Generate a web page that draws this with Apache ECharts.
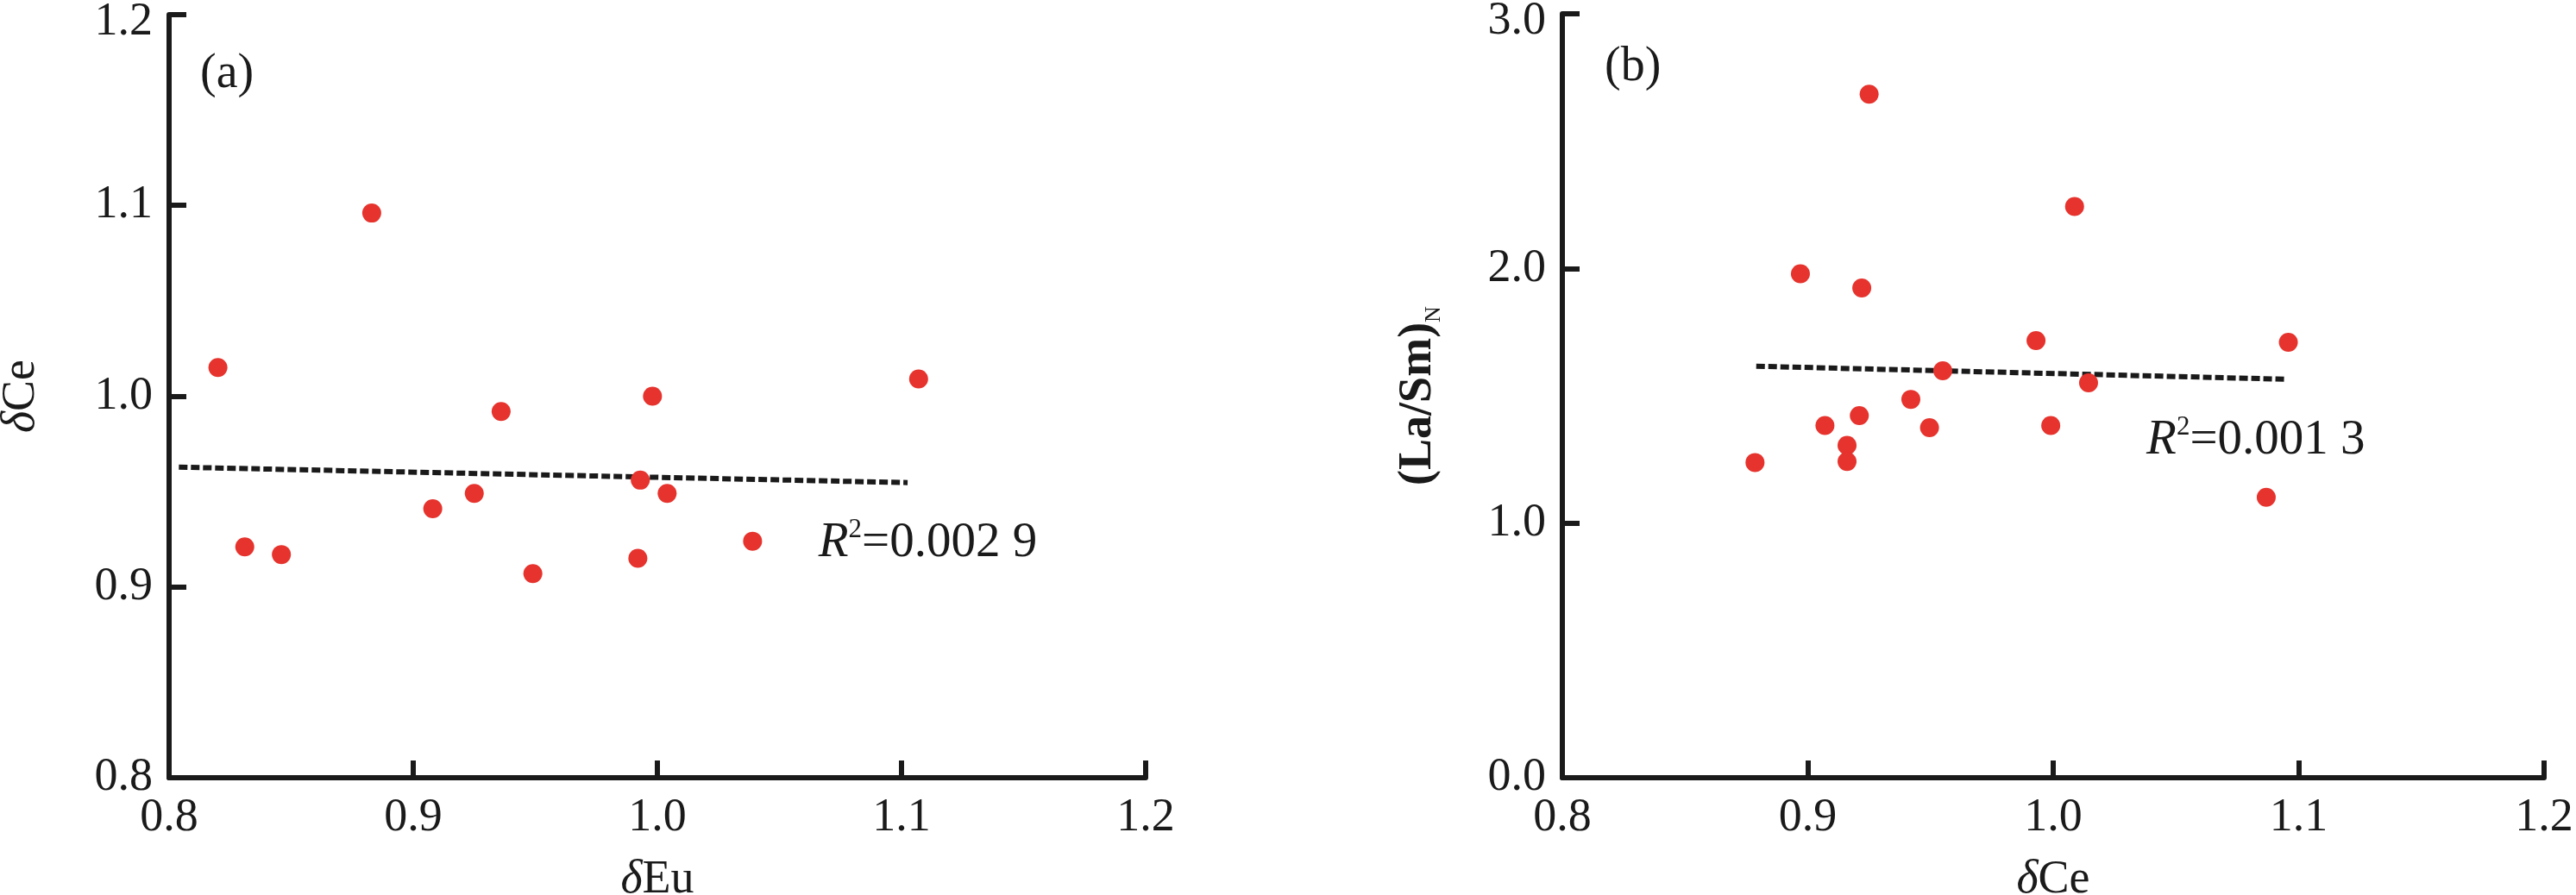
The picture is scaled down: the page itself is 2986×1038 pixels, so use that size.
<!DOCTYPE html>
<html><head><meta charset="utf-8">
<script src="https://cdn.jsdelivr.net/npm/echarts@6/dist/echarts.min.js"></script>
<style>html,body{margin:0;padding:0;background:#fff}#c{width:2986px;height:1038px}</style>
</head><body><div id="c"></div>
<script>
// Panel (a): δEu vs δCe
const aEu = [0.820, 0.831, 0.846, 0.883, 0.908, 0.925, 0.936, 0.949, 0.992, 0.993, 0.998, 1.004, 1.039, 1.107];
const aCe = [1.015, 0.921, 0.917, 1.096, 0.941, 0.949, 0.992, 0.907, 0.915, 0.956, 1.000, 0.949, 0.924, 1.009];
const aFitX = [0.804, 1.1025];
const aFitY = [0.9628, 0.9547];
const aR2 = '0.002 9';
// Panel (b): δCe vs (La/Sm)N
const bCe = [0.8785, 0.897, 0.907, 0.916, 0.916, 0.921, 0.922, 0.925, 0.942, 0.9496, 0.955, 0.993, 0.999, 1.0087, 1.0144, 1.0868, 1.0958];
const bLaSm = [1.238, 1.979, 1.383, 1.305, 1.242, 1.422, 1.923, 2.684, 1.486, 1.375, 1.598, 1.717, 1.383, 2.243, 1.551, 1.101, 1.710];
const bFitX = [0.879, 1.0945];
const bFitY = [1.616, 1.565];
const bR2 = '0.001 3';
// annotation anchors (data coordinates)
const aR2Anchor = [1.066, 0.923];
const bR2Anchor = [1.038, 1.324];

const F = '"Liberation Serif","Times New Roman",serif';
const C = '#1a1a1a';
const RED = '#e6332d';
const FS = 54;

function pairs(xs, ys){ return xs.map((x,i)=>[x, ys[i]]); }

function xAxisCfg(grid, name, rich){
  return {
    gridIndex: grid, type:'value', min:0.8, max:1.2, interval:0.1,
    axisLine:{show:true, onZero:false, lineStyle:{color:C, width:6}},
    axisTick:{show:true, inside:true, length:20, lineStyle:{color:C, width:6}},
    splitLine:{show:false},
    axisLabel:{fontSize:FS, fontFamily:F, color:C, margin:20, formatter:v=>v.toFixed(1)},
    name:name, nameLocation:'middle', nameGap:92, nameMoveOverlap:false,
    nameTextStyle:{fontSize:FS, fontFamily:F, color:C, rich:rich}
  };
}
function yAxisCfg(grid, min, max, interval, name, gap, rich){
  return {
    gridIndex: grid, type:'value', min:min, max:max, interval:interval,
    axisLine:{show:true, onZero:false, lineStyle:{color:C, width:6}},
    axisTick:{show:true, inside:true, length:20, lineStyle:{color:C, width:6}},
    splitLine:{show:false},
    axisLabel:{fontSize:FS, fontFamily:F, color:C, margin:19,
      formatter:v=>{ const s = v.toFixed(1); return Math.abs(v - max) < 1e-9 ? '{m|' + s + '}' : s; },
      rich:{m:{fontSize:FS, fontFamily:F, color:C, padding:[18,0,0,0]}}},
    name:name, nameLocation:'middle', nameGap:gap, nameMoveOverlap:false,
    nameTextStyle:{fontSize:FS, fontFamily:F, color:C, rich:rich}
  };
}
const deltaRich = {
  i:{fontStyle:'italic', fontSize:FS, fontFamily:F, color:C},
  t:{fontSize:FS, fontFamily:F, color:C}
};
const laRich = {
  t:{fontSize:FS, fontFamily:F, color:C, fontWeight:'bold', lineHeight:62},
  s:{fontSize:26, fontFamily:F, color:C, verticalAlign:'bottom', lineHeight:62}
};
const r2Rich = {
  i:{fontStyle:'italic', fontSize:57, fontFamily:F, color:C, lineHeight:62},
  s:{fontSize:31, fontFamily:F, color:C, verticalAlign:'top', lineHeight:40},
  t:{fontSize:57, fontFamily:F, color:C, lineHeight:62}
};

function fitSeries(xi, yi, xs, ys, anchor, r2){
  return {
    type:'line', xAxisIndex:xi, yAxisIndex:yi, data:pairs(xs, ys),
    showSymbol:false, symbol:'none', silent:true, z:1,
    lineStyle:{color:C, width:6, type:[10,4]},
    markPoint:{
      silent:true, symbol:'circle', symbolSize:0, itemStyle:{color:'rgba(0,0,0,0)'},
      data:[{coord:anchor}],
      label:{show:true, position:'right', distance:0,
        formatter:'{i|R}{s|2}{t|=' + r2 + '}', rich:r2Rich}
    }
  };
}

const chart = echarts.init(document.getElementById('c'), null, {renderer:'canvas'});
chart.setOption({
  animation:false,
  backgroundColor:'#fff',
  textStyle:{fontFamily:F},
  grid:[
    {left:196, top:17, width:1132, height:885, outerBoundsMode:'none', containLabel:false},
    {left:1811, top:16, width:1138, height:886, outerBoundsMode:'none', containLabel:false}
  ],
  xAxis:[
    xAxisCfg(0, '{i|δ}{t|Eu}', deltaRich),
    xAxisCfg(1, '{i|δ}{t|Ce}', deltaRich)
  ],
  yAxis:[
    yAxisCfg(0, 0.8, 1.2, 0.1, '{i|δ}{t|Ce}', 144, deltaRich),
    yAxisCfg(1, 0, 3, 1, '{t|(La/Sm)}{s|N}', 136, laRich)
  ],
  graphic:[
    {type:'text', left:232, top:58, style:{text:'(a)', font:'56px ' + F, fill:C}},
    {type:'text', left:1860, top:50, style:{text:'(b)', font:'56px ' + F, fill:C}}
  ],
  series:[
    fitSeries(0, 0, aFitX, aFitY, aR2Anchor, aR2),
    {type:'scatter', xAxisIndex:0, yAxisIndex:0, data:pairs(aEu, aCe), symbolSize:22, itemStyle:{color:RED, opacity:1}, z:3},
    fitSeries(1, 1, bFitX, bFitY, bR2Anchor, bR2),
    {type:'scatter', xAxisIndex:1, yAxisIndex:1, data:pairs(bCe, bLaSm), symbolSize:22, itemStyle:{color:RED, opacity:1}, z:3}
  ]
});
</script></body></html>
